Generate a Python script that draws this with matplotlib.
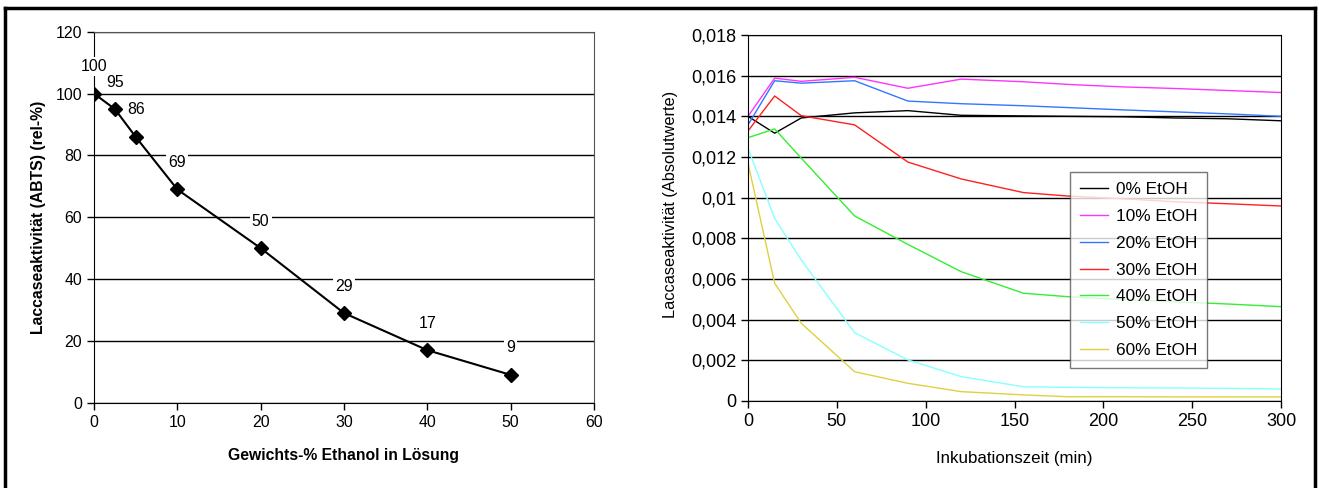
import numpy as np
import matplotlib
matplotlib.use('Agg')
import matplotlib.pyplot as plt
from matplotlib.lines import Line2D
from matplotlib.ticker import FuncFormatter

plt.rcParams['font.family'] = ['Liberation Sans', 'DejaVu Sans']

# left chart: relative activity vs ethanol content
ethanol = [0, 2.5, 5, 10, 20, 30, 40, 50]
activity = [100, 95, 86, 69, 50, 29, 17, 9]

# right chart: absolute activity over incubation time
time_min = [0, 15, 30, 60, 90, 120, 155, 180, 210, 240, 270, 300]
etoh_0 = [0.0140, 0.01317, 0.01392, 0.01417, 0.01428, 0.01405, 0.01402, 0.01400, 0.01398, 0.01392, 0.01388, 0.01378]
etoh_10 = [0.0140, 0.01588, 0.01572, 0.01592, 0.01538, 0.01583, 0.01570, 0.01557, 0.01545, 0.01537, 0.01527, 0.01517]
etoh_20 = [0.01358, 0.01575, 0.01563, 0.01575, 0.01475, 0.01462, 0.01452, 0.01443, 0.01432, 0.01422, 0.01412, 0.0140]
etoh_30 = [0.01328, 0.0150, 0.01403, 0.01358, 0.01175, 0.01092, 0.01025, 0.01008, 0.00995, 0.0098, 0.0097, 0.00959]
etoh_40 = [0.01295, 0.01338, 0.01194, 0.0091, 0.0077, 0.00636, 0.0053, 0.00513, 0.00500, 0.00488, 0.00477, 0.00464]
etoh_50 = [0.01243, 0.00898, 0.00693, 0.00336, 0.00202, 0.0012, 0.0007, 0.00067, 0.00065, 0.00064, 0.00062, 0.00059]
etoh_60 = [0.01169, 0.00579, 0.00382, 0.00144, 0.00087, 0.00046, 0.0003, 0.00021, 0.00021, 0.0002, 0.0002, 0.0002]

series_labels = ['0% EtOH', '10% EtOH', '20% EtOH', '30% EtOH', '40% EtOH', '50% EtOH', '60% EtOH']
series_colors = ['#000000', '#FF33FF', '#3377FF', '#FF2020', '#33EE33', '#88FFFF', '#E0D040']

fig = plt.figure(figsize=(13.19, 4.88), dpi=100)

# outer frame (open at the bottom)
for xs, ys in [([5/1319, 5/1319], [0, 1 - 8/488]),
               ([5/1319, 1315/1319], [1 - 8/488, 1 - 8/488]),
               ([1315/1319, 1315/1319], [1 - 8/488, 0])]:
    fig.add_artist(Line2D(xs, ys, color='black', lw=2.5, transform=fig.transFigure))

# ---- left chart ----
ax1 = fig.add_axes([0.0713, 0.1748, 0.379, 0.760])
ax1.plot(ethanol, activity, color='black', lw=1.5, marker='D', markersize=7, zorder=3)
for x, y in zip(ethanol, activity):
    ax1.annotate(str(y), (x, y), xytext=(0, 27), textcoords='offset pixels',
                 ha='center', va='center', fontsize=11.4, zorder=5, annotation_clip=False,
                 bbox=dict(facecolor='white', edgecolor='none', pad=1.5))
ax1.set_xlim(0, 60)
ax1.set_ylim(0, 120)
ax1.set_xticks(range(0, 61, 10))
ax1.set_yticks(range(0, 121, 20))
ax1.yaxis.grid(True, color='black', lw=1)
ax1.set_axisbelow(True)
for s in ['top', 'right']:
    ax1.spines[s].set_color('#555555')
ax1.tick_params(labelsize=11.4, direction='out', length=5, width=1)
ax1.set_xlabel('Gewichts-% Ethanol in Lösung', fontsize=11.3, fontweight='bold', labelpad=13)
ax1.set_ylabel('Laccaseaktivität (ABTS) (rel-%)', fontsize=11.3, fontweight='bold')
ax1.yaxis.set_label_coords(-0.097, 0.5)

# ---- right chart ----
ax2 = fig.add_axes([0.5671, 0.1783, 0.4041, 0.75])
for vals, lab, col in zip([etoh_0, etoh_10, etoh_20, etoh_30, etoh_40, etoh_50, etoh_60],
                          series_labels, series_colors):
    ax2.plot(time_min, vals, color=col, lw=1, label=lab)
ax2.set_xlim(0, 300)
ax2.set_ylim(0, 0.018)
ax2.set_xticks(range(0, 301, 50))
ax2.set_yticks(np.arange(0, 0.0181, 0.002))
ax2.yaxis.set_major_formatter(FuncFormatter(lambda v, p: ('%g' % round(v, 4)).replace('.', ',')))
ax2.yaxis.grid(True, color='black', lw=1)
ax2.set_axisbelow(True)
ax2.tick_params(labelsize=13, direction='out', length=5, width=1)
ax2.set_xlabel('Inkubationszeit (min)', fontsize=12.2, labelpad=15)
ax2.set_ylabel('Laccaseaktivität (Absolutwerte)', fontsize=11.8)
ax2.yaxis.set_label_coords(-0.131, 0.537)
leg = ax2.legend(loc='upper left', bbox_to_anchor=(0.604, 0.626), fontsize=12.4,
                 frameon=True, fancybox=False, shadow=False, handlelength=1.6,
                 handletextpad=0.45, labelspacing=0.68, borderpad=0.6, borderaxespad=0)
leg.get_frame().set_edgecolor('#555555')
leg.get_frame().set_linewidth(1)

plt.savefig('out.png', dpi=100)
